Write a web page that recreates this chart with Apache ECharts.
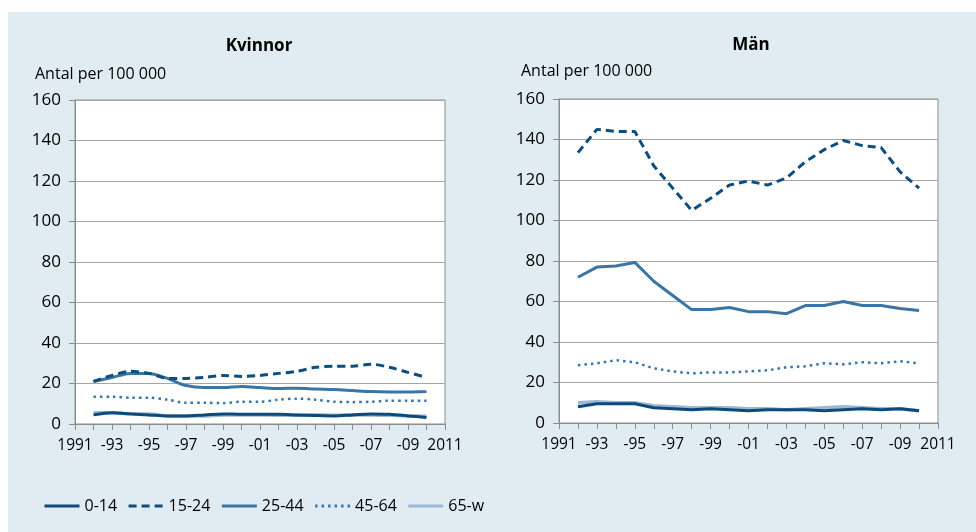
<!DOCTYPE html>
<html>
<head>
<meta charset="utf-8">
<script src="https://cdn.jsdelivr.net/npm/echarts@6/dist/echarts.min.js"></script>
<style>
	body { margin: 0; background: #fff; }
	#chart { width: 976px; height: 532px; }
</style>
</head>
<body>
<div id="chart"></div>
<script>
	// år 1992-2010
	var years = [1992, 1993, 1994, 1995, 1996, 1997, 1998, 1999, 2000, 2001,
		2002, 2003, 2004, 2005, 2006, 2007, 2008, 2009, 2010];
	var groups = ['0-14', '15-24', '25-44', '45-64', '65-w'];

	/*Kvinnor*/
	var kv0_14 = [4.5, 5.5, 5, 4.5, 4, 4, 4.5, 5, 4.8, 4.8, 4.8, 4.5, 4.2, 4, 4.5, 5, 4.8, 4, 3.2];
	var kv15_24 = [21, 24, 26, 25, 22.5, 22.5, 23, 24, 23.5, 24, 25, 26, 28, 28.5, 28.5, 29.5, 28, 25.5, 23];
	var kv25_44 = [21, 23, 25, 25, 22.5, 19, 18, 18, 18.5, 18, 17.5, 17.7, 17.3, 17, 16.5, 16, 15.8, 15.8, 16];
	var kv45_64 = [13.5, 13.5, 13, 13, 12, 10.5, 10.5, 10.3, 11, 11, 12, 12.5, 12, 11, 10.8, 11, 11.5, 11.5, 11.5];
	var kv65_w = [5.5, 5.5, 5, 5, 4, 4, 4, 4.5, 4.5, 4.5, 4.3, 4.3, 4.5, 4.3, 4.5, 4.5, 4.3, 4, 3.8];

	/*Män*/
	var man0_14 = [8, 9.5, 9.5, 9.5, 7.5, 7, 6.5, 7, 6.5, 6, 6.5, 6.5, 6.5, 6, 6.5, 7, 6.5, 7, 6];
	var man15_24 = [133.5, 145, 144, 144, 127, 116, 105, 111, 117.5, 119.5, 117.5, 121, 129, 135, 139.5, 137, 136, 124, 116];
	var man25_44 = [72, 77, 77.5, 79.3, 70, 63, 56, 56, 57, 55, 55, 54, 58, 58, 60, 58, 58, 56.5, 55.5];
	var man45_64 = [28.5, 29.5, 31, 30, 27, 25.5, 24.5, 25, 25, 25.5, 26, 27.5, 28, 29.5, 29, 30, 29.5, 30.5, 29.5];
	var man65_w = [10, 10.5, 10, 10, 8.5, 8, 7.5, 7.5, 7.5, 7, 7, 6.5, 7, 7.5, 8, 7.5, 7, 7, 6];

	var xTicks = { 1991: '1991', 1993: '-93', 1995: '-95', 1997: '-97', 1999: '-99', 2001: '-01',
		2003: '-03', 2005: '-05', 2007: '-07', 2009: '-09', 2011: '2011' };

	var FONT = 'Open Sans';
	var FS = 16;
	var styles = [
		{ color: '#0c4a7c', width: 3, type: 'solid' },
		{ color: '#0e4e7f', width: 3, type: [8, 5] },
		{ color: '#3a75a4', width: 3, type: 'solid' },
		{ color: '#3676ad', width: 2.5, type: [2.5, 4] },
		{ color: '#9db8d5', width: 3.5, type: 'solid' }
	];

	function pairs(arr) {
		return years.map(function(y, i) { return [y, arr[i]]; });
	}

	function makeSeries(lists, idx, smooth) {
		// 65-w ritas först så att de mörka linjerna hamnar ovanpå
		var order = [4, 3, 2, 1, 0];
		return order.map(function(k) {
			return {
				name: groups[k],
				type: 'line',
				xAxisIndex: idx,
				yAxisIndex: idx,
				symbol: 'none',
				smooth: smooth,
				data: pairs(lists[k]),
				lineStyle: styles[k],
				itemStyle: { color: styles[k].color },
				z: 10 - k
			};
		});
	}

	function xAxis(idx) {
		return {
			type: 'value',
			gridIndex: idx,
			min: 1991,
			max: 2011,
			interval: 1,
			axisLine: { lineStyle: { color: '#8c8c8c', width: 1 } },
			axisTick: { show: true, length: 6, lineStyle: { color: '#8c8c8c' } },
			splitLine: { show: false },
			axisLabel: {
				margin: 14,
				color: '#000',
				fontFamily: FONT,
				fontSize: 15.5,
				showMinLabel: true,
				showMaxLabel: true,
				formatter: function(v) { return xTicks[v] || ''; }
			}
		};
	}

	function yAxis(idx) {
		return {
			type: 'value',
			gridIndex: idx,
			min: 0,
			max: 160,
			interval: 20,
			axisLine: { show: true, lineStyle: { color: '#8c8c8c' } },
			axisTick: { show: true, length: 6, lineStyle: { color: '#8c8c8c' } },
			splitLine: { show: true, lineStyle: { color: '#a6a6a6', width: 1 } },
			axisLabel: { margin: 14, color: '#000', fontFamily: FONT, fontSize: 17 }
		};
	}

	var myChart = echarts.init(document.getElementById('chart'));
	var option = {
		backgroundColor: '#fff',
		animation: false,
		graphic: [{
			type: 'rect',
			left: 8, top: 12,
			shape: { width: 968, height: 520 },
			style: { fill: '#e1ecf2' },
			z: -10
		}],
		title: [
			{ text: 'Kvinnor', left: 254, top: 33, textAlign: 'center',
				textStyle: { fontFamily: FONT, fontSize: 17, fontWeight: 'bold', color: '#000' } },
			{ text: 'Antal per 100 000', left: 30, top: 61,
				textStyle: { fontFamily: FONT, fontSize: FS, fontWeight: 'normal', color: '#000' } },
			{ text: 'Män', left: 746, top: 32, textAlign: 'center',
				textStyle: { fontFamily: FONT, fontSize: 17, fontWeight: 'bold', color: '#000' } },
			{ text: 'Antal per 100 000', left: 516, top: 58,
				textStyle: { fontFamily: FONT, fontSize: FS, fontWeight: 'normal', color: '#000' } }
		],
		legend: {
			data: groups,
			left: 38,
			top: 493,
			itemWidth: 35,
			itemHeight: 14,
			itemGap: 10,
			itemStyle: { opacity: 0 },
			lineStyle: { width: 3 },
			textStyle: { fontFamily: FONT, fontSize: FS, color: '#000', padding: [0, 0, 0, 0] }
		},
		grid: [
			{ left: 75, top: 100, width: 370, height: 324, show: true, backgroundColor: '#fff', borderColor: '#8c8c8c', borderWidth: 1 },
			{ left: 559, top: 99, width: 379, height: 324, show: true, backgroundColor: '#fff', borderColor: '#8c8c8c', borderWidth: 1 }
		],
		xAxis: [xAxis(0), xAxis(1)],
		yAxis: [yAxis(0), yAxis(1)],
		series: makeSeries([kv0_14, kv15_24, kv25_44, kv45_64, kv65_w], 0, 0.3)
			.concat(makeSeries([man0_14, man15_24, man25_44, man45_64, man65_w], 1, false))
	};
	myChart.setOption(option);
</script>
</body>
</html>
